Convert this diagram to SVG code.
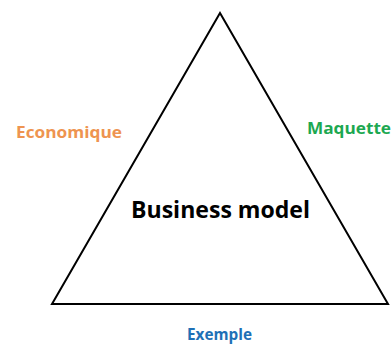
<svg xmlns="http://www.w3.org/2000/svg" width="392" height="349" viewBox="0 0 392 349">
<style>
.lbl{font-family:"Open Sans","Noto Sans","Liberation Sans",sans-serif;font-weight:bold}
</style>
<rect width="392" height="349" fill="#fff"/>
<g id="triangle">
<polygon points="220,13 52,304 388,304" fill="none" stroke="#000" stroke-width="2"/>
</g>
<g id="connectors"></g>
<g id="center"><text class="lbl" x="131" y="218" font-size="24" textLength="179" lengthAdjust="spacingAndGlyphs" fill="#000">Business model</text></g>
<g id="economique"><text class="lbl" x="16" y="138" font-size="16" textLength="106" lengthAdjust="spacingAndGlyphs" fill="#EE9450">Economique</text></g>
<g id="maquette"><text class="lbl" x="307" y="134" font-size="16" textLength="84" lengthAdjust="spacingAndGlyphs" fill="#1DA851">Maquette</text></g>
<g id="exemple"><text class="lbl" x="187" y="340" font-size="16" textLength="65" lengthAdjust="spacingAndGlyphs" fill="#1E70B6">Exemple</text></g>
</svg>
